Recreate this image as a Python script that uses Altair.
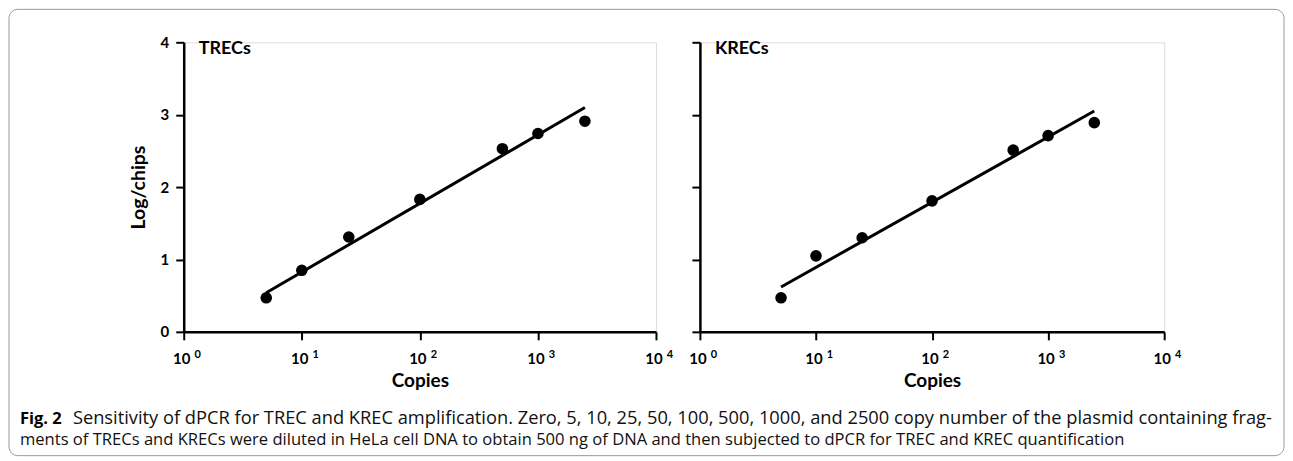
import altair as alt
import pandas as pd

# ---- data ----
copies = [5, 10, 25, 100, 500, 1000, 2500]
trec_log = [0.47, 0.85, 1.31, 1.83, 2.53, 2.74, 2.91]
krec_log = [0.47, 1.05, 1.30, 1.81, 2.51, 2.71, 2.89]
trec_fit_x = [5, 2500]
trec_fit_y = [0.54, 3.10]
krec_fit_x = [5, 2500]
krec_fit_y = [0.62, 3.05]
decades = [1, 10, 100, 1000, 10000]
exponents = ["0", "1", "2", "3", "4"]
y_ticks = [0, 1, 2, 3, 4]

caption_bold = "Fig. 2"
caption_line1 = ("Sensitivity of dPCR for TREC and KREC amplification. Zero, 5, 10, 25, 50, 100, 500, 1000, "
                 "and 2500 copy number of the plasmid containing frag-")
caption_line2 = ("ments of TRECs and KRECs were diluted in HeLa cell DNA to obtain 500 ng of DNA and then "
                 "subjected to dPCR for TREC and KREC quantification")

FONT = "Lato"
CAP_FONT = "Open Sans"
H = 290


def panel(name, ys, fx, fy, w, first):
    pts = pd.DataFrame({"copies": copies, "val": ys})
    fit = pd.DataFrame({"copies": fx, "val": fy})
    tk = pd.DataFrame({"copies": decades, "exp": exponents, "base": ["10"] * len(decades)})

    xs = alt.Scale(type="log", domain=[1, 10000], nice=False)
    yscale = alt.Scale(domain=[0, 4], nice=False, zero=True)

    xaxis = alt.Axis(values=decades, labels=False, grid=False, title="Copies",
                     titleFont=FONT, titleFontSize=19, titleFontWeight="bold", titleColor="black",
                     titlePadding=31, domainColor="black", domainWidth=2.5,
                     tickColor="black", tickWidth=2, tickSize=8)
    if first:
        yaxis = alt.Axis(values=y_ticks, format="d", grid=False, title="Log/chips", labelFont=FONT,
                         labelFontSize=15, labelFontWeight="bold", labelColor="black",
                         labelPadding=7, titleFont=FONT, titleFontSize=19.5, titleFontWeight="bold",
                         titleColor="black", titlePadding=12, domainColor="black", domainWidth=2.5,
                         tickColor="black", tickWidth=2, tickSize=8)
    else:
        yaxis = alt.Axis(values=y_ticks, grid=False, labels=False, title=None,
                         domainColor="black", domainWidth=2.5,
                         tickColor="black", tickWidth=2, tickSize=8)

    x_enc = alt.X("copies:Q", scale=xs, axis=xaxis)
    y_enc = alt.Y("val:Q", scale=yscale, axis=yaxis)

    line = alt.Chart(fit).mark_line(color="black", strokeWidth=3).encode(x=x_enc, y=y_enc)
    dots = alt.Chart(pts).mark_circle(color="black", opacity=1, size=135).encode(
        x=alt.X("copies:Q", scale=xs), y=alt.Y("val:Q", scale=yscale))
    base_lbl = alt.Chart(tk).mark_text(font=FONT, fontSize=15, fontWeight="bold", color="black",
                                       align="center", baseline="alphabetic", dx=-2).encode(
        x=alt.X("copies:Q", scale=xs), y=alt.value(H + 32.5), text="base:N")
    exp_lbl = alt.Chart(tk).mark_text(font=FONT, fontSize=11, fontWeight="bold", color="black",
                                      align="center", baseline="alphabetic", dx=14).encode(
        x=alt.X("copies:Q", scale=xs), y=alt.value(H + 26), text="exp:N")
    ttl = alt.Chart(pd.DataFrame({"t": [name]})).mark_text(
        font=FONT, fontSize=18, fontWeight="bold", color="black", align="left",
        baseline="alphabetic").encode(x=alt.value(15), y=alt.value(12), text="t:N")

    layers = [line, dots, base_lbl, exp_lbl, ttl]

    if first:
        # figure frame and caption (positioned relative to this panel's plot origin)
        frame = alt.Chart(pd.DataFrame({"k": [0]})).mark_rect(
            fill="white", fillOpacity=0, stroke="#9a9a9a", strokeWidth=1, cornerRadius=9).encode(
            x=alt.value(-175), x2=alt.value(1102), y=alt.value(-33), y2=alt.value(414))
        cap_b = alt.Chart(pd.DataFrame({"t": [caption_bold]})).mark_text(
            font=CAP_FONT, fontSize=16.5, fontWeight="bold", color="black", align="left",
            baseline="middle").encode(x=alt.value(-164), y=alt.value(377), text="t:N")
        cap_1 = alt.Chart(pd.DataFrame({"t": [caption_line1]})).mark_text(
            font=CAP_FONT, fontSize=18.3, color="#111111", align="left",
            baseline="middle").encode(x=alt.value(-111), y=alt.value(377), text="t:N")
        cap_2 = alt.Chart(pd.DataFrame({"t": [caption_line2]})).mark_text(
            font=CAP_FONT, fontSize=16.6, color="#111111", align="left",
            baseline="middle").encode(x=alt.value(-164), y=alt.value(398), text="t:N")
        layers = [frame] + layers + [cap_b, cap_1, cap_2]

    return alt.layer(*layers).properties(width=w, height=H)


left = panel("TRECs", trec_log, trec_fit_x, trec_fit_y, 473, True)
right = panel("KRECs", krec_log, krec_fit_x, krec_fit_y, 465, False)

chart = alt.hconcat(left, right, spacing=44).properties(
    bounds="flush", padding=0
).configure_view(strokeWidth=0).configure(background="white")

chart.save("out.html", embed_options={"renderer": "svg", "actions": False})
